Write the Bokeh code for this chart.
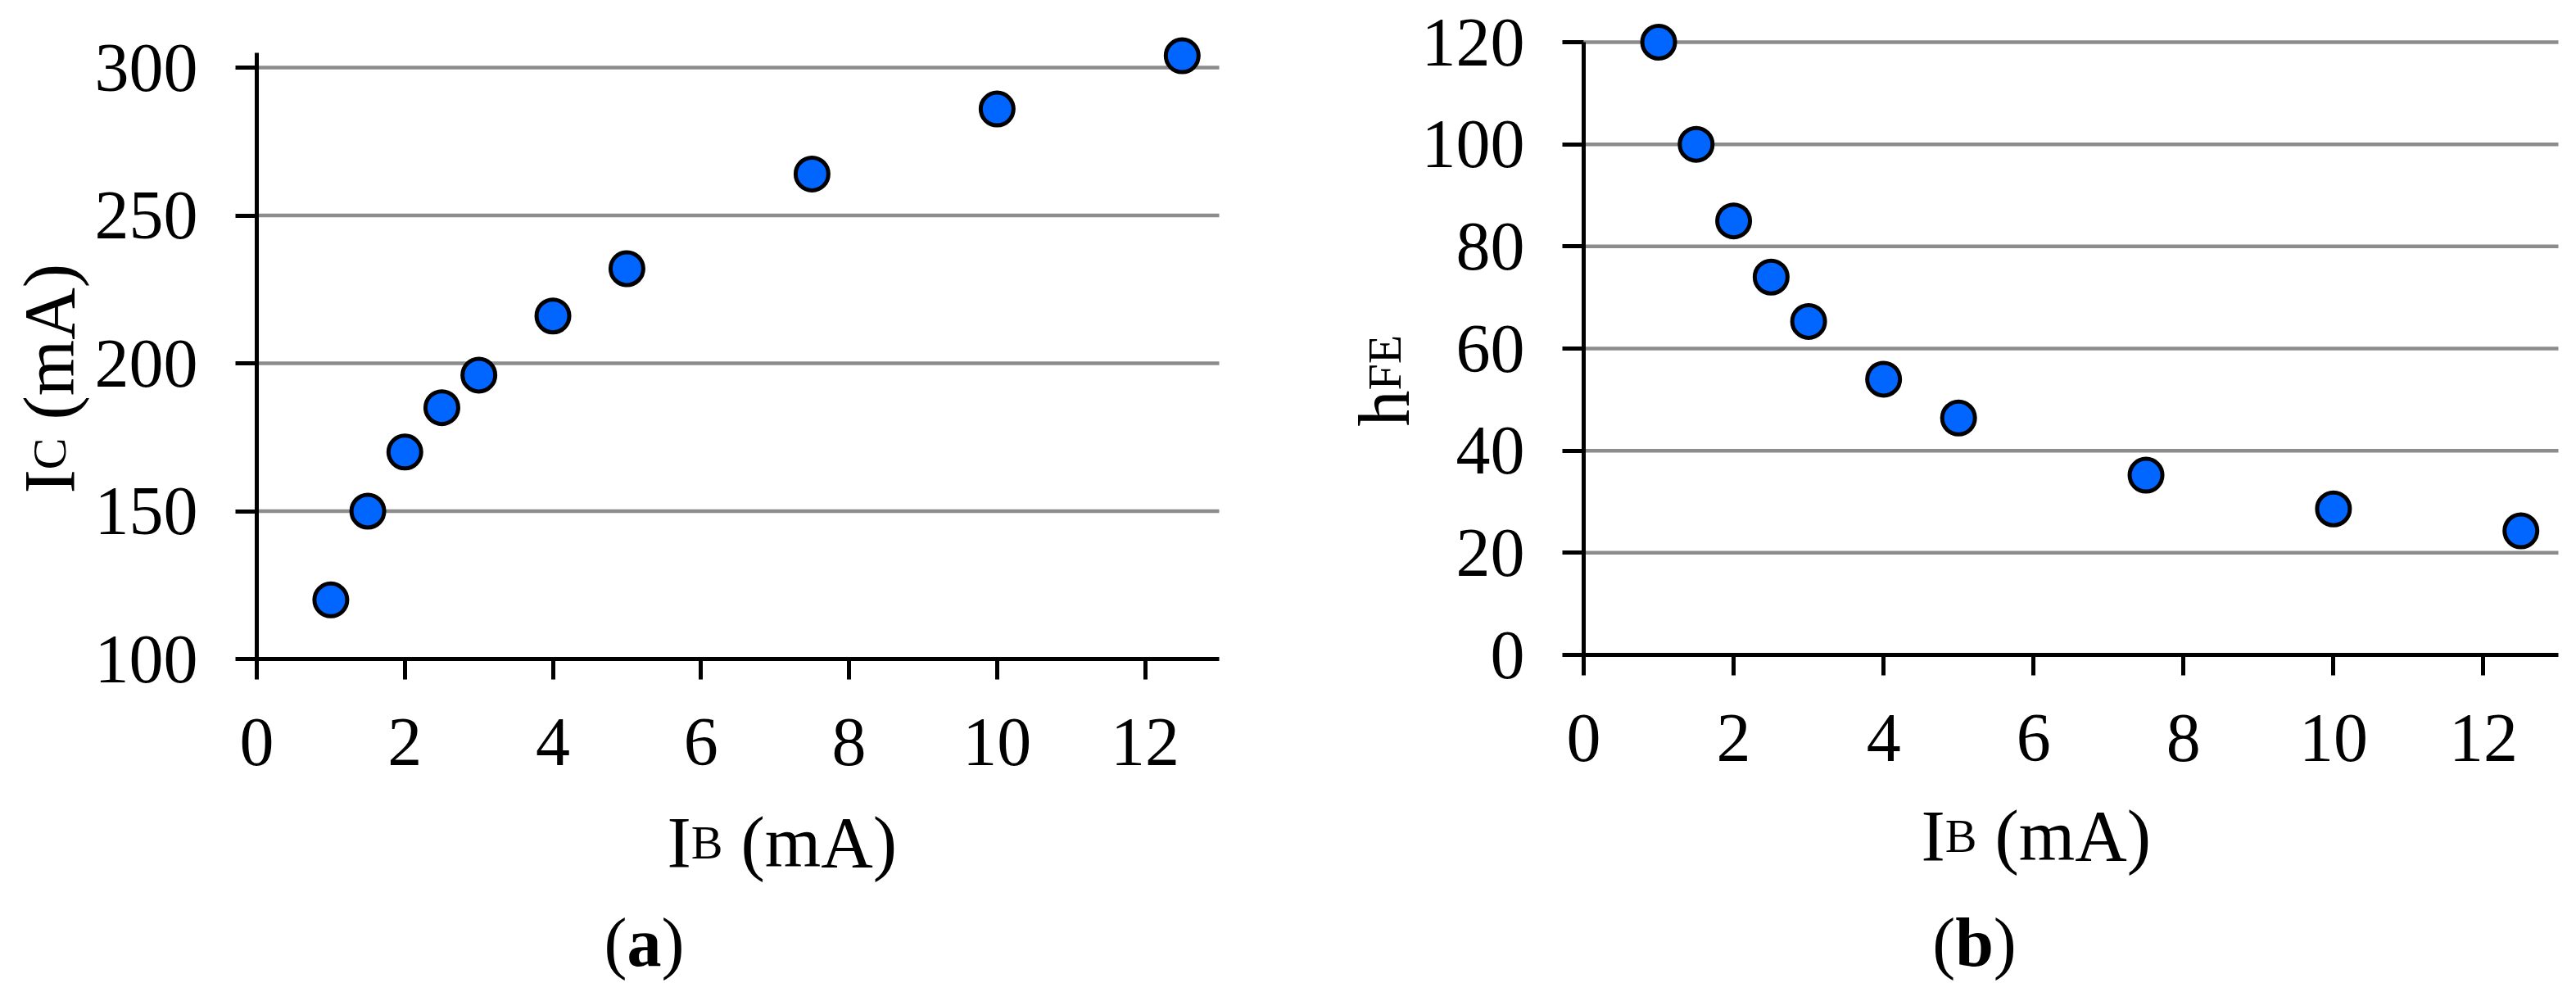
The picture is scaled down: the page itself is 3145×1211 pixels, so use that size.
import math
from bokeh.plotting import figure
from bokeh.layouts import row
from bokeh.models import Label, FixedTicker, Range1d
from bokeh.embed import file_html
from bokeh.resources import INLINE

# ---------------- data ----------------
ib = [1, 1.5, 2, 2.5, 3, 4, 5, 7.5, 10, 12.5]
ic = [120, 150, 170, 185, 196, 216, 232, 264, 286, 304]
hfe = [120, 100, 85, 74, 65.3, 54, 46.4, 35.2, 28.6, 24.3]
x_ticks = [0, 2, 4, 6, 8, 10, 12]
ic_ticks = [100, 150, 200, 250, 300]
hfe_ticks = [0, 20, 40, 60, 80, 100, 120]
x_max = 13

FONT = "Liberation Serif"
TICK_FS = 84
LAB_FS = 88
SUB_FS = 58
CAP_FS = 84
MARKER = "#0066ff"
GRID = "#8c8c8c"

FIG_TOP = 0
FIG_H = 1206
BASE_FIX = 28   # empirical shift of Bokeh's alphabetic baseline


def make_panel(fig_left, fig_w, x0_px, ppx, y0_px, ppy, y_start, y_axis_end, y_ticks):
    xr = Range1d((fig_left - x0_px) / ppx, (fig_left + fig_w - x0_px) / ppx)
    yr = Range1d(y_start - (FIG_TOP + FIG_H - y0_px) / ppy,
                 y_start + (y0_px - FIG_TOP) / ppy)
    p = figure(width=fig_w, height=FIG_H, x_range=xr, y_range=yr,
               min_border=0, min_border_left=0, min_border_right=0,
               min_border_top=0, min_border_bottom=0,
               output_backend="svg", toolbar_location=None,
               background_fill_color="white", border_fill_color="white")
    p.outline_line_color = None
    p.grid.visible = False

    # horizontal grid lines, spanning the plotted x extent only
    gy = y_ticks[1:]
    p.segment(x0=[0] * len(gy), y0=gy, x1=[x_max] * len(gy), y1=gy,
              line_color=GRID, line_width=4.5)

    p.xaxis.ticker = FixedTicker(ticks=x_ticks)
    p.yaxis.ticker = FixedTicker(ticks=y_ticks)
    p.xaxis.fixed_location = y_start
    p.yaxis.fixed_location = 0
    p.xaxis.bounds = (0, x_max)
    p.yaxis.bounds = (y_start, y_axis_end)
    for ax in (p.xaxis[0], p.yaxis[0]):
        ax.axis_line_width = 5
        ax.axis_line_color = "black"
        ax.major_tick_line_width = 5
        ax.major_tick_line_color = "black"
        ax.major_tick_in = 0
        ax.minor_tick_line_color = None
        ax.major_label_text_font = FONT
        ax.major_label_text_font_size = f"{TICK_FS}px"
        ax.major_label_text_color = "black"
    p.xaxis.major_tick_out = 25
    p.yaxis.major_tick_out = 26
    p.xaxis.major_label_standoff = 48
    p.yaxis.major_label_standoff = 46

    def dx(px):
        return (px - x0_px) / ppx

    def dy(py):
        return y_start + (y0_px - py) / ppy

    def lab(text, px, py, size, bold=False, angle=0.0):
        p.add_layout(Label(x=dx(px), y=dy(py), text=text, text_font=FONT,
                           text_font_size=f"{size}px", text_color="black",
                           text_font_style="bold" if bold else "normal",
                           text_align="left", text_baseline="alphabetic",
                           angle=angle))
    return p, lab


# ---------------- panel (a) ----------------
pa, lab_a = make_panel(fig_left=0, fig_w=1588, x0_px=313, ppx=(1488 - 313) / x_max,
                       y0_px=804, ppy=(804 - 82) / 200, y_start=100,
                       y_axis_end=305, y_ticks=ic_ticks)
pa.scatter(ib, ic, size=40, fill_color=MARKER, line_color="black", line_width=5)

# x label  I_B (mA)
x0, base = 814, 1056 - BASE_FIX
lab_a("I", x0, base, LAB_FS)
lab_a("B", x0 + 0.333 * LAB_FS, base, SUB_FS)
lab_a("(mA)", x0 + 0.333 * LAB_FS + 0.667 * SUB_FS + 0.25 * LAB_FS, base, LAB_FS)
# y label  I_C (mA), rotated
yb, y0 = 88 - BASE_FIX, 602
lab_a("I", yb, y0, LAB_FS, angle=math.pi / 2)
lab_a("C", yb, y0 - 0.333 * LAB_FS, SUB_FS, angle=math.pi / 2)
lab_a("(mA)", yb, y0 - 0.333 * LAB_FS - 0.667 * SUB_FS - 0.25 * LAB_FS, LAB_FS, angle=math.pi / 2)
# caption (a)
cx, cb = 786, 1178 - BASE_FIX
w = (0.333 + 0.5 + 0.333) * CAP_FS
lab_a("(", cx - w / 2, cb, CAP_FS)
lab_a("a", cx - w / 2 + 0.333 * CAP_FS, cb, CAP_FS, bold=True)
lab_a(")", cx - w / 2 + 0.833 * CAP_FS, cb, CAP_FS)

# ---------------- panel (b) ----------------
pb, lab_b = make_panel(fig_left=1588, fig_w=1552, x0_px=1933, ppx=(3123 - 1933) / x_max,
                       y0_px=799, ppy=(799 - 51) / 120, y_start=0,
                       y_axis_end=120, y_ticks=hfe_ticks)
pb.scatter(ib, hfe, size=40, fill_color=MARKER, line_color="black", line_width=5)

x0, base = 2345, 1048 - BASE_FIX
lab_b("I", x0, base, LAB_FS)
lab_b("B", x0 + 0.333 * LAB_FS, base, SUB_FS)
lab_b("(mA)", x0 + 0.333 * LAB_FS + 0.667 * SUB_FS + 0.25 * LAB_FS, base, LAB_FS)
yb, y0 = 1718 - BASE_FIX, 520
lab_b("h", yb, y0, LAB_FS, angle=math.pi / 2)
lab_b("FE", yb, y0 - 0.5 * LAB_FS, SUB_FS, angle=math.pi / 2)
cx, cb = 2410, 1178 - BASE_FIX
w = (0.333 + 0.556 + 0.333) * CAP_FS
lab_b("(", cx - w / 2, cb, CAP_FS)
lab_b("b", cx - w / 2 + 0.333 * CAP_FS, cb, CAP_FS, bold=True)
lab_b(")", cx - w / 2 + 0.889 * CAP_FS, cb, CAP_FS)

layout = row(pa, pb, spacing=0)
open("out.html", "w").write(file_html(layout, INLINE))
